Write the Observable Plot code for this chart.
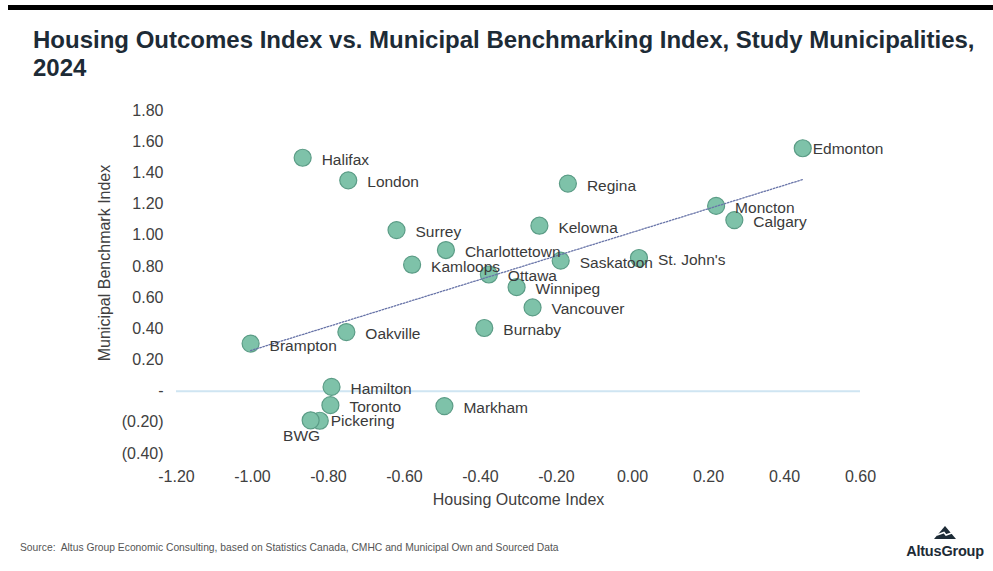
<!DOCTYPE html>
<html>
<head>
<meta charset="utf-8">
<script src="https://cdn.jsdelivr.net/npm/d3@7"></script>
<script src="https://cdn.jsdelivr.net/npm/@observablehq/plot@0.6"></script>
<style>
  html, body { margin: 0; padding: 0; background: #fff; }
  #page { position: relative; width: 993px; height: 571px; overflow: hidden; background: #fff; font-family: "Liberation Sans", Arial, sans-serif; }
  #bar { position: absolute; left: 8px; top: 5px; width: 985px; height: 5px; background: #000; }
  #title { position: absolute; left: 33px; top: 26px; font-weight: bold; font-size: 24px; line-height: 28px; color: #1d2b36; }
  #chart { position: absolute; left: 0; top: 90px; }
  #source { position: absolute; left: 20px; top: 542px; font-size: 10.3px; color: #555; }
  #logo { position: absolute; left: 901px; top: 525px; width: 88px; text-align: center; color: #1d2b36; }
  #logo .name { font-weight: bold; font-size: 14.5px; letter-spacing: -0.2px; margin-top: 0px; }
</style>
</head>
<body>
<div id="page">
  <div id="bar"></div>
  <div id="title">Housing Outcomes Index vs. Municipal Benchmarking Index, Study Municipalities,<br>2024</div>
  <div id="chart"></div>
  <div id="source">Source:&nbsp; Altus Group Economic Consulting, based on Statistics Canada, CMHC and Municipal Own and Sourced Data</div>
  <div id="logo">
    <svg width="22" height="13" viewBox="0 0 22 13"><polygon points="11,0 22,13 0,13" fill="#1d2b36"/><polyline points="3,9 10,6.5 12,9 19,6.5" fill="none" stroke="#fff" stroke-width="1.5"/></svg>
    <div class="name">AltusGroup</div>
  </div>
</div>
<script>
// Data
const names = ["Halifax","London","Surrey","Charlottetown","Kamloops","Ottawa","Winnipeg","Vancouver","Burnaby","Kelowna","Regina","Saskatoon","St. John's","Moncton","Calgary","Edmonton","Brampton","Oakville","Hamilton","Toronto","Markham","Pickering","BWG"];
const housingOutcome = [-0.868,-0.748,-0.621,-0.491,-0.580,-0.378,-0.305,-0.263,-0.390,-0.245,-0.170,-0.189,0.017,0.220,0.268,0.448,-1.005,-0.753,-0.792,-0.795,-0.495,-0.823,-0.847];
const benchmark = [1.497,1.352,1.033,0.905,0.811,0.748,0.667,0.537,0.405,1.061,1.331,0.837,0.854,1.188,1.097,1.558,0.305,0.379,0.027,-0.090,-0.096,-0.190,-0.187];

const xTicks = [-1.2,-1.0,-0.8,-0.6,-0.4,-0.2,0,0.2,0.4,0.6];
const xTickLabels = ["-1.20","-1.00","-0.80","-0.60","-0.40","-0.20","0.00","0.20","0.40","0.60"];
const yTicks = [1.8,1.6,1.4,1.2,1.0,0.8,0.6,0.4,0.2,0,-0.2,-0.4];
const yTickLabels = ["1.80","1.60","1.40","1.20","1.00","0.80","0.60","0.40","0.20","-","(0.20)","(0.40)"];

const xTitle = "Housing Outcome Index";
const yTitle = "Municipal Benchmark Index";

const rows = names.map((name, i) => ({name, x: housingOutcome[i], y: benchmark[i]}));

// label placement groups (styling, not data)
const special = new Set(["Edmonton", "Pickering", "BWG"]);
const textColor = "#3a3a3a";
const labelSize = 15.5;

const chart = Plot.plot({
  width: 993,
  height: 430,
  marginLeft: 176,
  marginRight: 133,
  marginTop: 20,
  marginBottom: 67,
  style: {fontFamily: "'Liberation Sans', Arial, sans-serif", fontSize: "16px", color: "#404040", background: "transparent"},
  x: {domain: [-1.2, 0.6]},
  y: {domain: [-0.4, 1.8]},
  marks: [
    Plot.ruleY([0], {stroke: "#cfe5f2", strokeWidth: 2}),
    Plot.axisX({ticks: xTicks, tickFormat: d => xTickLabels[xTicks.indexOf(d)], tickSize: 0, tickPadding: 17, label: null, fontSize: 16}),
    Plot.axisY({ticks: yTicks, tickFormat: d => yTickLabels[yTicks.indexOf(d)], tickSize: 0, tickPadding: 13, label: null, fontSize: 16}),
    Plot.dot(rows, {x: "x", y: "y", r: 8.5, fill: "#7ec2a9", stroke: "#5b9c86", strokeWidth: 1.2, fillOpacity: 1}),
    Plot.linearRegressionY(rows, {x: "x", y: "y", ci: 0, stroke: "#6874a8", strokeWidth: 1.3, strokeDasharray: "1.6,1.6"}),
    Plot.text(rows.filter(d => !special.has(d.name)), {x: "x", y: "y", text: "name", textAnchor: "start", dx: 19, dy: 2, fill: textColor, fontSize: labelSize}),
    Plot.text(rows.filter(d => d.name === "Edmonton"), {x: "x", y: "y", text: "name", textAnchor: "start", dx: 10, dy: 1, fill: textColor, fontSize: labelSize}),
    Plot.text(rows.filter(d => d.name === "Pickering"), {x: "x", y: "y", text: "name", textAnchor: "start", dx: 11, dy: 0, fill: textColor, fontSize: labelSize}),
    Plot.text(rows.filter(d => d.name === "BWG"), {x: "x", y: "y", text: "name", textAnchor: "middle", dx: -9, dy: 16, fill: textColor, fontSize: labelSize}),
    Plot.text([xTitle], {text: d => d, frameAnchor: "bottom", dy: 51, fill: "#404040", fontSize: 16}),
    Plot.text([yTitle], {text: d => d, frameAnchor: "left", textAnchor: "middle", rotate: -90, dx: -72, dy: -19, fill: "#404040", fontSize: 16})
  ]
});
document.getElementById("chart").appendChild(chart);
</script>
</body>
</html>
